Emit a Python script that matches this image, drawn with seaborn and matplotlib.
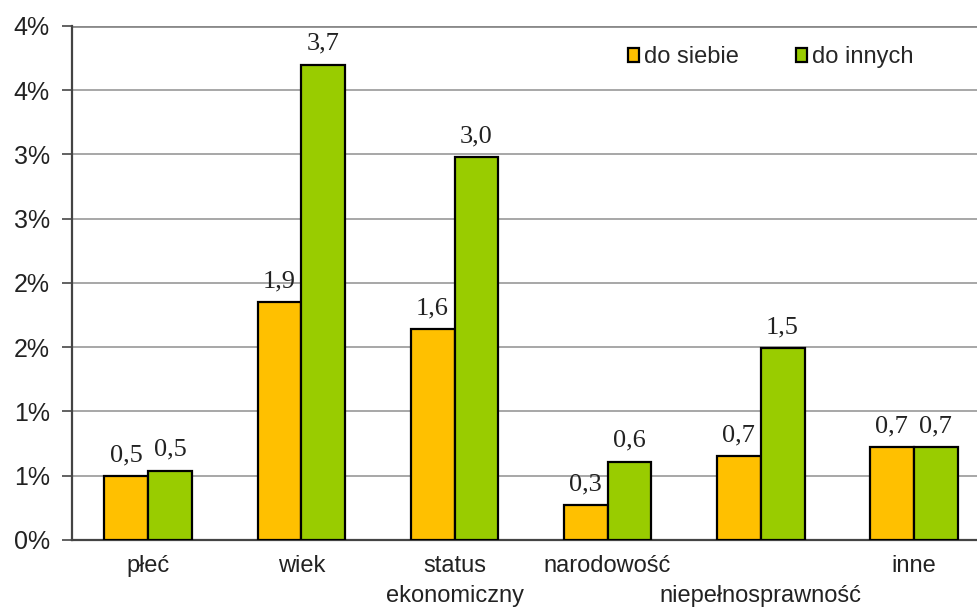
import numpy as np
import pandas as pd
import seaborn as sns
import matplotlib.pyplot as plt
from matplotlib.ticker import FixedLocator

categories = ["płeć", "wiek", "status\nekonomiczny", "narodowość", "\nniepełnosprawność", "inne"]
do_siebie = [0.5, 1.85, 1.64, 0.27, 0.65, 0.72]
do_innych = [0.54, 3.70, 2.98, 0.61, 1.49, 0.72]
label_siebie = ["0,5", "1,9", "1,6", "0,3", "0,7", "0,7"]
label_innych = ["0,5", "3,7", "3,0", "0,6", "1,5", "0,7"]
series = ["do siebie", "do innych"]
y_ticks = [0, 0.5, 1.0, 1.5, 2.0, 2.5, 3.0, 3.5, 4.0]
y_tick_labels = ["0%", "1%", "1%", "2%", "2%", "3%", "3%", "4%", "4%"]

df = pd.DataFrame({
    "kategoria": categories * 2,
    "seria": [series[0]] * len(categories) + [series[1]] * len(categories),
    "wartosc": do_siebie + do_innych,
})

sns.set_style("white")
plt.rcParams['font.family'] = ['Liberation Sans', 'DejaVu Sans']

fig = plt.figure(figsize=(9.78, 6.15), dpi=100)
ax = fig.add_axes([0.0736, 0.122, 0.9387, 0.8358])

sns.barplot(data=df, x="kategoria", y="wartosc", hue="seria", order=categories,
            hue_order=series, palette=["#FFC000", "#99CC00"], width=0.575, gap=0,
            edgecolor="black", linewidth=1.6, saturation=1, ax=ax, zorder=3)

for cont, labs in zip(ax.containers, [label_siebie, label_innych]):
    ax.bar_label(cont, labels=labs, padding=7, fontsize=19,
                 family="Liberation Serif", color="#222222")

ax.set_ylim(0, 4.0)
ax.set_xlim(-0.5, len(categories) - 0.5)
ax.set_yticks(y_ticks)
ax.set_yticklabels(y_tick_labels, fontsize=18, color="#222222")
ax.grid(axis="y", color="#a0a0a0", linewidth=1.3, zorder=0)
ax.set_axisbelow(True)

ax.set_xticks(range(len(categories)))
ax.set_xticklabels(categories, fontsize=17, color="#222222", linespacing=1.45)
ax.xaxis.set_minor_locator(FixedLocator(np.arange(-0.5, len(categories), 1.0)))
ax.tick_params(axis="x", which="major", length=0, pad=11)
ax.tick_params(axis="x", which="minor", length=7, width=1.3, color="#555555", direction="out")
ax.tick_params(axis="y", length=7, width=1.3, color="#555555", direction="out", left=True, pad=9)
ax.set_xlabel("")
ax.set_ylabel("")

for side in ["top", "right"]:
    ax.spines[side].set_visible(False)
ax.spines["left"].set_color("#444444")
ax.spines["left"].set_linewidth(1.6)
ax.spines["bottom"].set_color("#444444")
ax.spines["bottom"].set_linewidth(1.6)
ax.axhline(4.0, color="#8a8a8a", linewidth=2, zorder=1)

handles, labels = ax.get_legend_handles_labels()
ax.legend(handles, labels, loc="center left", bbox_to_anchor=(0.62, 0.907),
          bbox_transform=fig.transFigure, ncol=2, frameon=False, fontsize=17,
          handlelength=0.5, handleheight=0.5, handletextpad=0.2, columnspacing=2.4)

fig.savefig("out.png", dpi=100)
